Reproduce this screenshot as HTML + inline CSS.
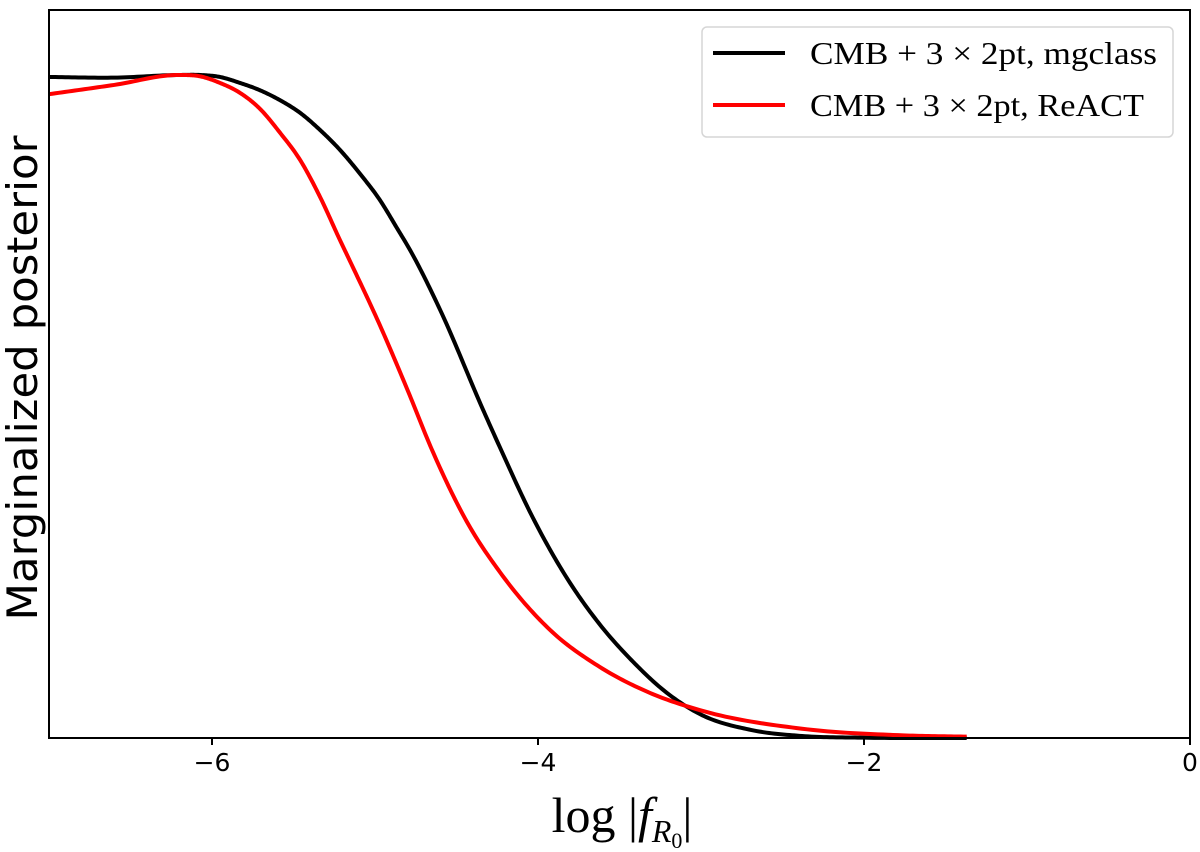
<!DOCTYPE html>
<html><head><meta charset="utf-8"><style>
body{margin:0;background:#fff;}
svg{display:block;}
</style></head><body>
<svg id="chart" width="1200" height="852" xmlns="http://www.w3.org/2000/svg">
<g id="plot"></g>
</svg>
<script>
const xTicks = [-6, -4, -2, 0];
const tickLabels = ["\u22126", "\u22124", "\u22122", "0"];
const blackX = [-7, -6.6, -6.2, -6.074, -5.951, -5.828, -5.706, -5.583, -5.46, -5.337, -5.215, -5.092, -4.969, -4.865, -4.785, -4.601, -4.337, -4.233, -4.031, -3.822, -3.62, -3.417, -3.209, -3.006, -2.69, -2.38, -2.0, -1.37];
const blackY = [0.997, 0.996, 1.0, 1.0, 0.997, 0.988, 0.977, 0.962, 0.943, 0.917, 0.887, 0.851, 0.811, 0.769, 0.736, 0.646, 0.495, 0.438, 0.332, 0.241, 0.171, 0.115, 0.068, 0.036, 0.012, 0.003, 0.0005, 0.0];
const redX = [-7, -6.6, -6.2, -6.074, -5.951, -5.828, -5.706, -5.583, -5.46, -5.337, -5.215, -5.153, -4.969, -4.804, -4.644, -4.436, -4.233, -3.926, -3.62, -3.313, -3.006, -2.38, -1.76, -1.37];
const redY = [0.971, 0.985, 1.0, 0.998, 0.988, 0.973, 0.949, 0.913, 0.872, 0.816, 0.751, 0.719, 0.622, 0.527, 0.431, 0.326, 0.250, 0.163, 0.107, 0.068, 0.042, 0.014, 0.004, 0.002];

const L = 49, R = 1190, T = 10, B = 738;
const xMin = -7, xMax = 0, yMin = 0, yMax = 1.098;
function sx(v){ return L + (v - xMin) / (xMax - xMin) * (R - L); }
function sy(v){ return B - (v - yMin) / (yMax - yMin) * (B - T); }
const NS = "http://www.w3.org/2000/svg";
const g = document.getElementById('plot');
function mk(tag, attrs){ const e = document.createElementNS(NS, tag); for (const k in attrs) e.setAttribute(k, attrs[k]); return e; }

function hermitePath(xs, ys){
  const n = xs.length, d = [], m = [];
  for (let i=0;i<n-1;i++) d.push((ys[i+1]-ys[i])/(xs[i+1]-xs[i]));
  for (let i=0;i<n;i++){
    if (i===0) m.push(d[0]);
    else if (i===n-1) m.push(d[n-2]);
    else {
      const h0 = xs[i]-xs[i-1], h1 = xs[i+1]-xs[i];
      m.push((d[i-1]*h1 + d[i]*h0)/(h0+h1));
    }
  }
  let path = `M${sx(xs[0])},${sy(ys[0])}`;
  for (let i=0;i<n-1;i++){
    const h = xs[i+1]-xs[i];
    for (let k=1;k<=20;k++){
      const t = k/20, t2=t*t, t3=t2*t;
      const v = (2*t3-3*t2+1)*ys[i] + (t3-2*t2+t)*h*m[i] + (-2*t3+3*t2)*ys[i+1] + (t3-t2)*h*m[i+1];
      path += ` L${sx(xs[i]+t*h).toFixed(2)},${sy(v).toFixed(2)}`;
    }
  }
  return path;
}

const black = mk('path', {d: hermitePath(blackX, blackY), fill:'none', stroke:'#000', 'stroke-width':4, 'stroke-linejoin':'round'});


g.appendChild(black);
const red = mk('path', {d: hermitePath(redX, redY), fill:'none', stroke:'#ff0000', 'stroke-width':4, 'stroke-linejoin':'round'});


g.appendChild(red);

const frame = mk('rect', {x:L, y:T, width:R-L, height:B-T, fill:'none', stroke:'#000', 'stroke-width':2});


g.appendChild(frame);

xTicks.forEach((t,i)=>{
  const tk = mk('line', {x1:sx(t), x2:sx(t), y1:B, y2:B+7, stroke:'#000', 'stroke-width':2});
  
  
  g.appendChild(tk);
  const lb = mk('text', {x:sx(t), y:771, 'text-anchor':'middle', 'font-family':'"DejaVu Sans", sans-serif', 'font-size':25});
  lb.textContent = tickLabels[i];
  
  
  g.appendChild(lb);
});
</script>
<svg style="position:absolute;left:0;top:0" width="1200" height="852" xmlns="http://www.w3.org/2000/svg">
<text x="622" y="832" text-anchor="middle" font-family="'Liberation Serif', serif" font-size="50">log |<tspan font-style="italic">f</tspan><tspan font-style="italic" font-size="32" dy="10">R</tspan><tspan font-size="22" dy="6">0</tspan><tspan dy="-16">|</tspan></text>
<text transform="translate(37,378) rotate(-90)" text-anchor="middle" font-family="'DejaVu Sans', sans-serif" font-size="42" textLength="485" lengthAdjust="spacingAndGlyphs">Marginalized posterior</text>
<g>
<rect x="702" y="27" width="471" height="110" rx="5" fill="#fff" fill-opacity="0.8" stroke="#d6d6d6" stroke-width="1.5"/>
<line x1="713" x2="785" y1="53" y2="53" stroke="#000" stroke-width="4"/>
<text x="810" y="64" font-family="'Liberation Serif', serif" font-size="32" textLength="347" lengthAdjust="spacingAndGlyphs">CMB + 3 × 2pt, mgclass</text>
<line x1="713" x2="785" y1="105" y2="105" stroke="#ff0000" stroke-width="4"/>
<text x="810" y="116" font-family="'Liberation Serif', serif" font-size="32" textLength="334" lengthAdjust="spacingAndGlyphs">CMB + 3 × 2pt, ReACT</text>
</g>
</svg>
</body></html>
